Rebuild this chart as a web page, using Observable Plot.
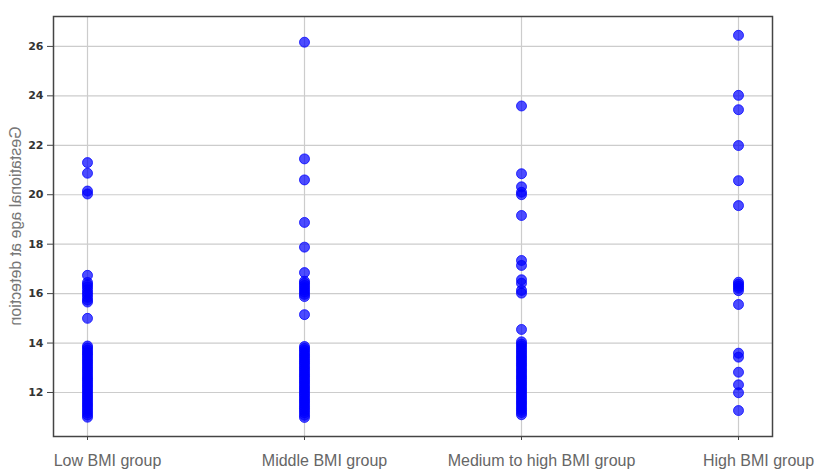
<!DOCTYPE html>
<html>
<head>
<meta charset="utf-8">
<script src="https://cdn.jsdelivr.net/npm/d3@7"></script>
<script src="https://cdn.jsdelivr.net/npm/@observablehq/plot@0.6"></script>
<style>
  html, body { margin: 0; padding: 0; background: #fff; }
  #chart { width: 818px; height: 473px; }
</style>
</head>
<body>
<div id="chart"></div>
<script>
const categories = ["Low BMI group", "Middle BMI group", "Medium to high BMI group", "High BMI group"];

const lowBMI = [21.3, 20.87, 20.15, 20.03, 16.74, 16.45, 16.36, 16.27, 16.16, 16.05, 15.96, 15.85, 15.74, 15.66, 15.0,
  13.88, 13.8, 13.71, 13.62, 13.55, 13.46, 13.37, 13.28, 13.2, 13.11, 13.02, 12.93, 12.85, 12.76, 12.67, 12.58, 12.5,
  12.41, 12.32, 12.24, 12.15, 12.06, 11.97, 11.88, 11.8, 11.71, 11.62, 11.53, 11.45, 11.36, 11.27, 11.18, 11.09, 11.0];
const middleBMI = [26.17, 21.45, 20.6, 18.88, 17.88, 16.85, 16.5, 16.42, 16.33, 16.24, 16.15, 16.06, 15.97, 15.88, 15.15,
  13.86, 13.78, 13.7, 13.61, 13.52, 13.44, 13.35, 13.26, 13.18, 13.09, 13.0, 12.92, 12.83, 12.74, 12.66, 12.57, 12.48,
  12.4, 12.31, 12.22, 12.14, 12.05, 11.96, 11.88, 11.79, 11.7, 11.62, 11.53, 11.44, 11.36, 11.27, 11.18, 11.08, 10.99];
const mediumHighBMI = [23.59, 20.85, 20.32, 20.1, 20.0, 19.16, 17.34, 17.14, 16.56, 16.42, 16.13, 16.02, 14.55,
  14.05, 13.96, 13.88, 13.79, 13.7, 13.62, 13.53, 13.44, 13.36, 13.27, 13.18, 13.1, 13.01, 12.92, 12.84, 12.75, 12.66,
  12.58, 12.49, 12.4, 12.32, 12.23, 12.14, 12.06, 11.97, 11.88, 11.8, 11.71, 11.62, 11.54, 11.45, 11.36, 11.28, 11.19, 11.1];
const highBMI = [26.45, 24.02, 23.44, 21.99, 20.57, 19.56, 16.46, 16.38, 16.3, 16.22, 16.12, 15.56, 13.59, 13.43, 12.82, 12.31, 11.99, 11.27];

const yTicks = [12, 14, 16, 18, 20, 22, 24, 26];
const yLabel = "Gestational age at detection";

const series = [lowBMI, middleBMI, mediumHighBMI, highBMI];
const data = series.flatMap((vals, i) => vals.map(v => ({group: categories[i], age: v})));

const chart = Plot.plot({
  width: 818,
  height: 473,
  marginTop: 16,
  marginBottom: 37,
  marginLeft: 53,
  marginRight: 46,
  style: {background: "#fff", overflow: "visible"},
  x: {type: "point", domain: categories, padding: 0.152, label: null},
  y: {domain: [10.22, 27.21], ticks: yTicks, label: null},
  marks: [
    Plot.ruleX(categories, {stroke: "#cccccc", strokeWidth: 1.2}),
    Plot.ruleY(yTicks, {stroke: "#cccccc", strokeWidth: 1.2}),
    Plot.axisY({ticks: yTicks, tickSize: 6, tickPadding: 4, fontSize: 11, fontWeight: "bold", fill: "#333", stroke: "#444", tickFormat: d => String(d), label: null}),
    Plot.axisX({tickSize: 4, stroke: "#444", tickFormat: () => "", label: null}),
    Plot.axisX({tickSize: 0, tickPadding: 18, fontSize: 16, fill: "#666", dx: 20, label: null}),
    Plot.dot(data, {x: "group", y: "age", r: 5, fill: "#0000ff", fillOpacity: 0.7, stroke: "#0000ff", strokeOpacity: 0.75, strokeWidth: 1}),
    Plot.frame({stroke: "#444", strokeWidth: 1.5})
  ]
});

const svg = d3.select(chart);
svg.style("font-family", "'Liberation Sans', Arial, sans-serif");
svg.selectAll("g[aria-label='y-axis tick label'] text").style("font-family", "'DejaVu Sans', sans-serif");
svg.append("text")
  .attr("transform", "translate(17,226) scale(1,-1) rotate(-90)")
  .attr("text-anchor", "middle")
  .attr("dominant-baseline", "middle")
  .attr("font-size", 16)
  .attr("fill", "#777")
  .attr("font-family", "'Liberation Sans', Arial, sans-serif")
  .text(yLabel);

document.getElementById("chart").appendChild(chart);
</script>
</body>
</html>
